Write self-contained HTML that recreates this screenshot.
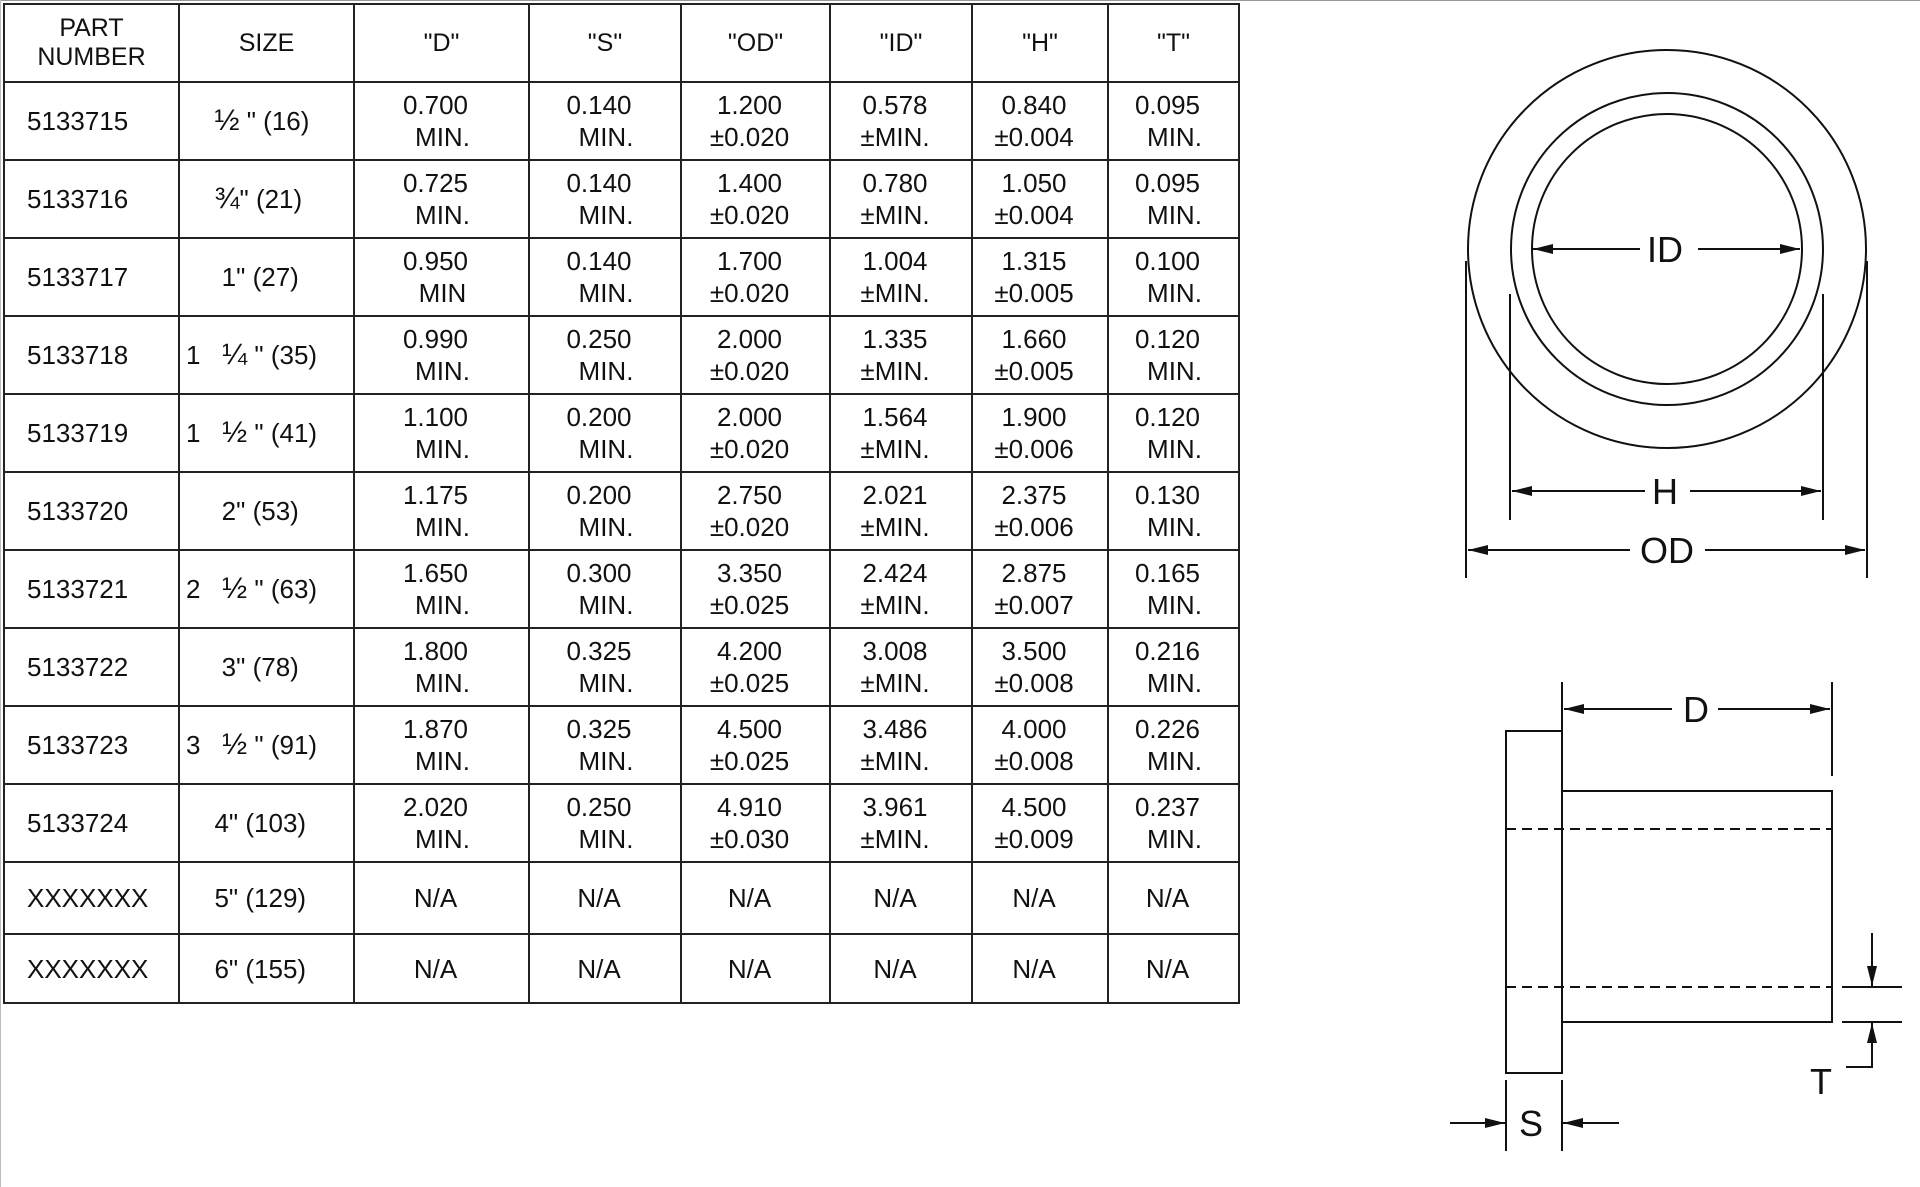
<!DOCTYPE html>
<html><head><meta charset="utf-8"><style>
html,body{margin:0;padding:0;background:#fff;width:1920px;height:1187px;overflow:hidden}
body{position:relative;font-family:"Liberation Sans",sans-serif;color:#111}
table{position:absolute;left:3px;top:3px;border-collapse:collapse;table-layout:fixed}
td{border:2px solid #222;text-align:center;font-size:26px;line-height:32px;padding:0 12px 0 0;white-space:nowrap}
td.pn{text-align:left;padding-left:22px;padding-right:0}
td.sz{text-align:left;padding-left:20px;padding-right:0}
td.hd{font-size:25px;line-height:29px;padding-right:0}
.b{display:block}
.m{display:block;padding-left:14px}
.f{font-size:30px}
</style></head><body>
<div style="position:absolute;left:0;top:0;width:1920px;height:1px;background:#999"></div>
<div style="position:absolute;left:0;top:0;width:1px;height:1187px;background:#bbb"></div>
<table>
<colgroup><col style="width:175px"><col style="width:175px"><col style="width:175px"><col style="width:152px"><col style="width:149px"><col style="width:142px"><col style="width:136px"><col style="width:131px"></colgroup>
<tr style="height:78px"><td class="hd">PART<br>NUMBER</td><td class="hd">SIZE</td><td class="hd">"D"</td><td class="hd">"S"</td><td class="hd">"OD"</td><td class="hd">"ID"</td><td class="hd">"H"</td><td class="hd">"T"</td></tr>
<tr style="height:78px"><td class="pn">5133715</td><td class="sz">&nbsp;&nbsp;<span class="f">½</span> " (16)</td><td><span class="b">0.700</span><span class="m">MIN.</span></td><td><span class="b">0.140</span><span class="m">MIN.</span></td><td><span class="b">1.200</span><span class="b">±0.020</span></td><td><span class="b">0.578</span><span class="b">±MIN.</span></td><td><span class="b">0.840</span><span class="b">±0.004</span></td><td><span class="b">0.095</span><span class="m">MIN.</span></td></tr>
<tr style="height:78px"><td class="pn">5133716</td><td class="sz">&nbsp;&nbsp;<span class="f">¾</span>" (21)</td><td><span class="b">0.725</span><span class="m">MIN.</span></td><td><span class="b">0.140</span><span class="m">MIN.</span></td><td><span class="b">1.400</span><span class="b">±0.020</span></td><td><span class="b">0.780</span><span class="b">±MIN.</span></td><td><span class="b">1.050</span><span class="b">±0.004</span></td><td><span class="b">0.095</span><span class="m">MIN.</span></td></tr>
<tr style="height:78px"><td class="pn">5133717</td><td class="sz">&nbsp;&nbsp;&nbsp;1" (27)</td><td><span class="b">0.950</span><span class="m">MIN</span></td><td><span class="b">0.140</span><span class="m">MIN.</span></td><td><span class="b">1.700</span><span class="b">±0.020</span></td><td><span class="b">1.004</span><span class="b">±MIN.</span></td><td><span class="b">1.315</span><span class="b">±0.005</span></td><td><span class="b">0.100</span><span class="m">MIN.</span></td></tr>
<tr style="height:78px"><td class="pn">5133718</td><td class="sz" style="padding-left:6px">1&nbsp;&nbsp;&nbsp;<span class="f">¼</span> " (35)</td><td><span class="b">0.990</span><span class="m">MIN.</span></td><td><span class="b">0.250</span><span class="m">MIN.</span></td><td><span class="b">2.000</span><span class="b">±0.020</span></td><td><span class="b">1.335</span><span class="b">±MIN.</span></td><td><span class="b">1.660</span><span class="b">±0.005</span></td><td><span class="b">0.120</span><span class="m">MIN.</span></td></tr>
<tr style="height:78px"><td class="pn">5133719</td><td class="sz" style="padding-left:6px">1&nbsp;&nbsp;&nbsp;<span class="f">½</span> " (41)</td><td><span class="b">1.100</span><span class="m">MIN.</span></td><td><span class="b">0.200</span><span class="m">MIN.</span></td><td><span class="b">2.000</span><span class="b">±0.020</span></td><td><span class="b">1.564</span><span class="b">±MIN.</span></td><td><span class="b">1.900</span><span class="b">±0.006</span></td><td><span class="b">0.120</span><span class="m">MIN.</span></td></tr>
<tr style="height:78px"><td class="pn">5133720</td><td class="sz">&nbsp;&nbsp;&nbsp;2" (53)</td><td><span class="b">1.175</span><span class="m">MIN.</span></td><td><span class="b">0.200</span><span class="m">MIN.</span></td><td><span class="b">2.750</span><span class="b">±0.020</span></td><td><span class="b">2.021</span><span class="b">±MIN.</span></td><td><span class="b">2.375</span><span class="b">±0.006</span></td><td><span class="b">0.130</span><span class="m">MIN.</span></td></tr>
<tr style="height:78px"><td class="pn">5133721</td><td class="sz" style="padding-left:6px">2&nbsp;&nbsp;&nbsp;<span class="f">½</span> " (63)</td><td><span class="b">1.650</span><span class="m">MIN.</span></td><td><span class="b">0.300</span><span class="m">MIN.</span></td><td><span class="b">3.350</span><span class="b">±0.025</span></td><td><span class="b">2.424</span><span class="b">±MIN.</span></td><td><span class="b">2.875</span><span class="b">±0.007</span></td><td><span class="b">0.165</span><span class="m">MIN.</span></td></tr>
<tr style="height:78px"><td class="pn">5133722</td><td class="sz">&nbsp;&nbsp;&nbsp;3" (78)</td><td><span class="b">1.800</span><span class="m">MIN.</span></td><td><span class="b">0.325</span><span class="m">MIN.</span></td><td><span class="b">4.200</span><span class="b">±0.025</span></td><td><span class="b">3.008</span><span class="b">±MIN.</span></td><td><span class="b">3.500</span><span class="b">±0.008</span></td><td><span class="b">0.216</span><span class="m">MIN.</span></td></tr>
<tr style="height:78px"><td class="pn">5133723</td><td class="sz" style="padding-left:6px">3&nbsp;&nbsp;&nbsp;<span class="f">½</span> " (91)</td><td><span class="b">1.870</span><span class="m">MIN.</span></td><td><span class="b">0.325</span><span class="m">MIN.</span></td><td><span class="b">4.500</span><span class="b">±0.025</span></td><td><span class="b">3.486</span><span class="b">±MIN.</span></td><td><span class="b">4.000</span><span class="b">±0.008</span></td><td><span class="b">0.226</span><span class="m">MIN.</span></td></tr>
<tr style="height:78px"><td class="pn">5133724</td><td class="sz">&nbsp;&nbsp;4" (103)</td><td><span class="b">2.020</span><span class="m">MIN.</span></td><td><span class="b">0.250</span><span class="m">MIN.</span></td><td><span class="b">4.910</span><span class="b">±0.030</span></td><td><span class="b">3.961</span><span class="b">±MIN.</span></td><td><span class="b">4.500</span><span class="b">±0.009</span></td><td><span class="b">0.237</span><span class="m">MIN.</span></td></tr>
<tr style="height:72px"><td class="pn">XXXXXXX</td><td class="sz">&nbsp;&nbsp;5" (129)</td><td>N/A</td><td>N/A</td><td>N/A</td><td>N/A</td><td>N/A</td><td>N/A</td></tr>
<tr style="height:69px"><td class="pn">XXXXXXX</td><td class="sz">&nbsp;&nbsp;6" (155)</td><td>N/A</td><td>N/A</td><td>N/A</td><td>N/A</td><td>N/A</td><td>N/A</td></tr>
</table>
<svg style="position:absolute;left:0;top:0" width="1920" height="1187" viewBox="0 0 1920 1187">
<defs>
<marker id="a" viewBox="0 0 20 10" refX="20" refY="5" markerWidth="20" markerHeight="10" markerUnits="userSpaceOnUse" orient="auto"><path d="M0,0 L20,5 L0,10 z" fill="#111"/></marker>
</defs>
<g fill="none" stroke="#111" stroke-width="2">
<circle cx="1667" cy="249" r="199"/>
<circle cx="1667" cy="249" r="156"/>
<circle cx="1667" cy="249" r="135"/>
<line x1="1466" y1="261" x2="1466" y2="578"/>
<line x1="1867" y1="261" x2="1867" y2="578"/>
<line x1="1510" y1="294" x2="1510" y2="520"/>
<line x1="1823" y1="294" x2="1823" y2="520"/>
<line x1="1640" y1="249" x2="1533" y2="249" marker-end="url(#a)"/>
<line x1="1698" y1="249" x2="1800" y2="249" marker-end="url(#a)"/>
<line x1="1645" y1="491" x2="1512" y2="491" marker-end="url(#a)"/>
<line x1="1690" y1="491" x2="1821" y2="491" marker-end="url(#a)"/>
<line x1="1630" y1="550" x2="1468" y2="550" marker-end="url(#a)"/>
<line x1="1705" y1="550" x2="1865" y2="550" marker-end="url(#a)"/>
<rect x="1506" y="731" width="56" height="342"/>
<rect x="1562" y="791" width="270" height="231"/>
<line x1="1506" y1="829" x2="1832" y2="829" stroke-dasharray="10,6"/>
<line x1="1506" y1="987" x2="1832" y2="987" stroke-dasharray="10,6"/>
<line x1="1562" y1="682" x2="1562" y2="737"/>
<line x1="1832" y1="682" x2="1832" y2="776"/>
<line x1="1672" y1="709" x2="1564" y2="709" marker-end="url(#a)"/>
<line x1="1718" y1="709" x2="1830" y2="709" marker-end="url(#a)"/>
<line x1="1842" y1="987" x2="1902" y2="987"/>
<line x1="1842" y1="1022" x2="1902" y2="1022"/>
<line x1="1872" y1="933" x2="1872" y2="986" marker-end="url(#a)"/>
<polyline points="1846,1067 1872,1067 1872,1023" marker-end="url(#a)"/>
<line x1="1506" y1="1080" x2="1506" y2="1151"/>
<line x1="1562" y1="1080" x2="1562" y2="1151"/>
<line x1="1450" y1="1123" x2="1505" y2="1123" marker-end="url(#a)"/>
<line x1="1619" y1="1123" x2="1563" y2="1123" marker-end="url(#a)"/>
</g>
<g font-family="Liberation Sans, sans-serif" font-size="36" fill="#111" text-anchor="middle">
<text x="1665" y="262">ID</text>
<text x="1665" y="504">H</text>
<text x="1667" y="563">OD</text>
<text x="1696" y="722">D</text>
<text x="1821" y="1094">T</text>
<text x="1531" y="1136">S</text>
</g>
</svg>
</body></html>
